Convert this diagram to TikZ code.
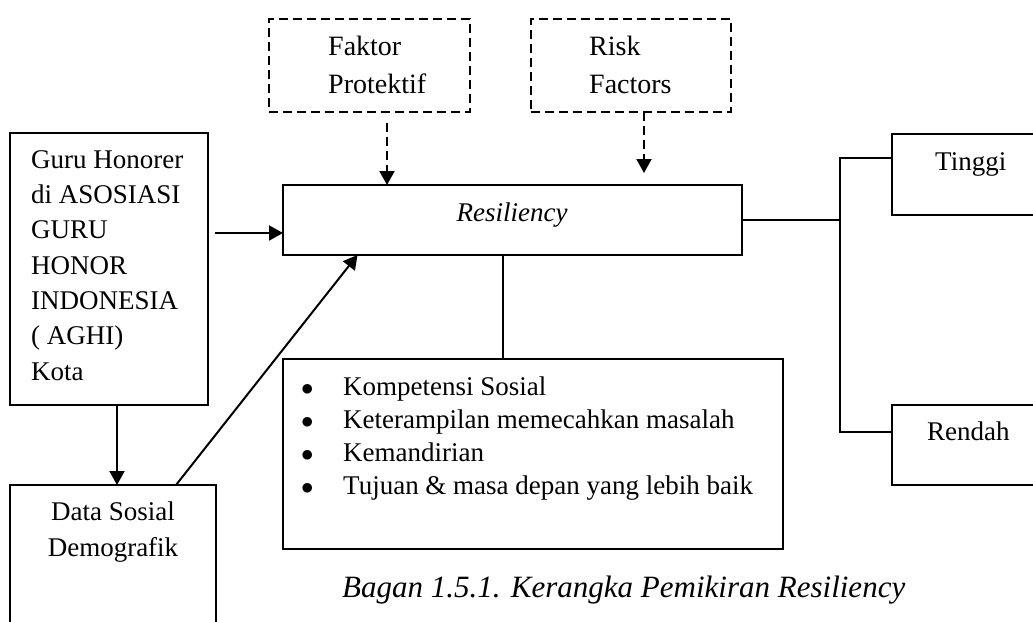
\documentclass[tikz,border=0pt]{standalone}
\usepackage{fontspec}
\setmainfont{Liberation Serif}
\usetikzlibrary{positioning,calc,arrows.meta}

\tikzset{
  box/.style={draw, line width=2pt, inner sep=0pt, outer sep=0pt},
  dbox/.style={box, dash pattern=on 9pt off 5pt},
  txt/.style={inner sep=0pt, anchor=base west, align=left, font=\fontsize{27}{35}\selectfont},
  arr/.style={line width=2pt, -{Triangle[length=14pt,width=15pt]}},
  darr/.style={arr, dash pattern=on 9pt off 5pt},
  conn/.style={line width=2pt}
}

\begin{document}
\begin{tikzpicture}[x=1pt,y=-1pt]
    \clip (0,0) rectangle (1033,621);

    % Boxes
    \node[box, minimum width=198pt, minimum height=272pt] (guru) at (109,269) {};
    \node[box, minimum width=206pt, minimum height=214pt] (data) at (113,592) {};
    \node[box, minimum width=459pt, minimum height=70pt] (resil) at (512.5,220) {};
    \node[dbox, minimum width=201pt, minimum height=93pt] (faktor) at (369.5,65.5) {};
    \node[dbox, minimum width=200pt, minimum height=93pt] (risk) at (631,65.5) {};
    \node[box, minimum width=500pt, minimum height=190pt] (kompet) at (533,454) {};
    \node[box, minimum width=208pt, minimum height=81pt] (tinggi) at (996,174.5) {};
    \node[box, minimum width=208pt, minimum height=80pt] (rendah) at (996,445) {};

    % Texts (base = last line)
    \node[txt, font=\fontsize{27}{35.3}\selectfont] (gurutxt) at (31,380) {Guru Honorer\\di ASOSIASI\\GURU\\HONOR\\INDONESIA\\( AGHI)\\Kota};
    \node[txt, anchor=base, align=center, font=\fontsize{27}{36}\selectfont] (datatxt) at (113,556) {Data Sosial\\Demografik};
    \node[txt, font=\fontsize{28}{38}\selectfont] (faktortxt) at (328,93) {Faktor\\Protektif};
    \node[txt, font=\fontsize{28}{38}\selectfont] (risktxt) at (589,93) {Risk\\Factors};
    \node[txt, anchor=base] (resiltxt) at (512,221) {\textit{Resiliency}};
    \node[txt] (tinggitxt) at (935,170) {Tinggi};
    \node[txt] (rendahtxt) at (927,440) {Rendah};
    \node[txt, font=\fontsize{27}{32.7}\selectfont] (kompettxt) at (301,494)
        {\makebox[42pt][l]{$\bullet$}Kompetensi Sosial\\
         \makebox[42pt][l]{$\bullet$}Keterampilan memecahkan masalah\\
         \makebox[42pt][l]{$\bullet$}Kemandirian\\
         \makebox[42pt][l]{$\bullet$}Tujuan \& masa depan yang lebih baik};
    \node[txt, font=\fontsize{31}{37}\selectfont\itshape] (caption) at (342,597) {Bagan 1.5.1. Kerangka Pemikiran Resiliency};

    % Arrows into Resiliency
    \draw[arr] ([shift={(7,-36)}]guru.east) coordinate (g) -- (g -| resil.west);
    \draw[arr] ([xshift=8pt]guru.south) -- ([xshift=8pt]guru.south |- data.north);
    \draw[arr] ([xshift=63pt]data.north) -- ([xshift=-155pt]resil.south);
    \draw[darr] ([shift={(17.5,11)}]faktor.south) -- ([xshift=17.5pt]faktor.south |- resil.north);
    \draw[darr] ([xshift=13pt]risk.south) -- ([shift={(13,-12)}]risk.south |- resil.north);

    % Resiliency to its parts and results
    \draw[conn] ([xshift=-10pt]resil.south) -- ([xshift=-10pt]resil.south |- kompet.north);
    \draw[conn] (resil.east) -- ++(98,0) coordinate (split);
    \draw[conn] ([yshift=16.5pt]tinggi.west) -| ([yshift=13pt]rendah.west -| split) -- ([yshift=13pt]rendah.west);
\end{tikzpicture}
\end{document}
